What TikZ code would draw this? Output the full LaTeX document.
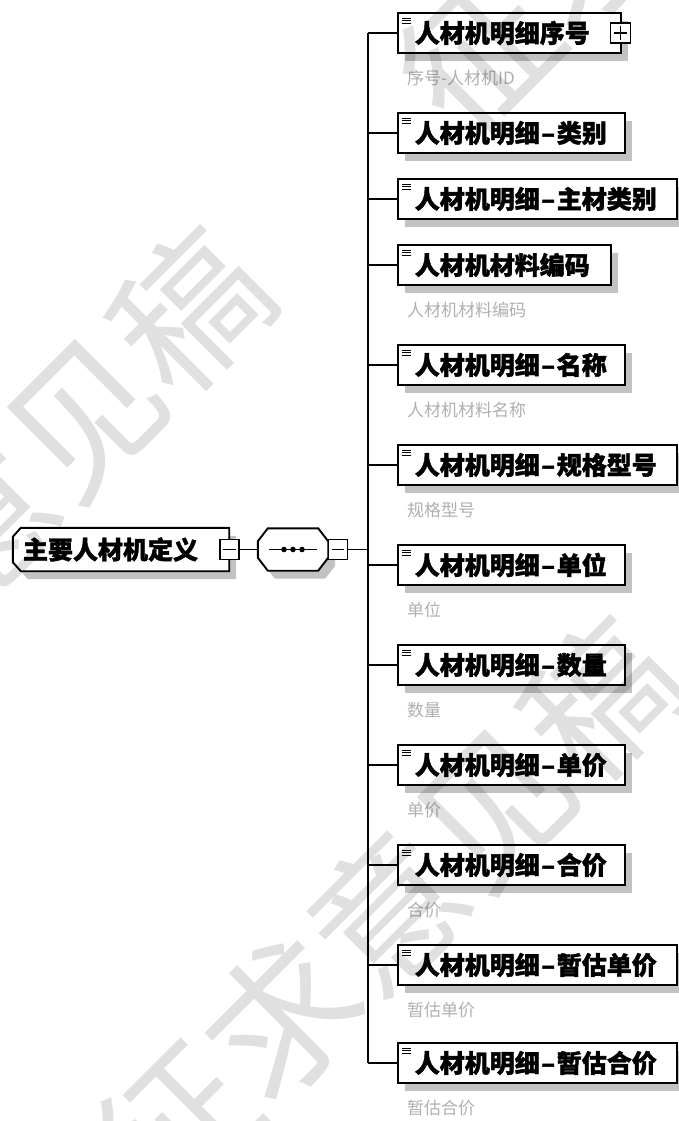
\documentclass[tikz,border=0pt]{standalone}
\usepackage{fontspec}
\newfontfamily\cjk{Noto Sans CJK SC}[BoldFeatures={FakeBold=1.5}]
\usetikzlibrary{shadows}
\pgfdeclarelayer{bg}
\pgfsetlayers{bg,main}
\newcommand\hy{\makebox[17pt]{–}}
\newcommand\elicon[1]{\foreach \k in {0,1,2}{\draw[line width=1.1pt] ([shift={(5,6+2.7*\k)}]#1.north west) -- ++(9,0);}}
\begin{document}
\begin{tikzpicture}[x=1pt,y=-1pt,line width=1.6pt,
  shad/.style={general shadow={fill=gray!48,draw=none,shadow xshift=7pt,shadow yshift=-8pt}},
  conn/.style={draw,line width=1.6pt},
  elem/.style={draw,line width=1.6pt,fill=white,shad,anchor=west,minimum height=40pt,inner xsep=17pt,inner ysep=0pt,
    align=left,text width=#1,font=\cjk\bfseries\fontsize{25}{30}\selectfont},
  sub/.style={anchor=west,inner sep=0pt,text=gray!62,font=\cjk\fontsize{17}{17}\selectfont},
  tog/.style={draw,fill=white,minimum width=19pt,minimum height=20pt,inner sep=0pt,line width=1.5pt},
  togline/.style={draw,line width=1.3pt},
  rootbox/.style={minimum height=43pt,inner xsep=10pt,inner ysep=0pt,text width=196pt,align=left,
    font=\cjk\bfseries\fontsize{25}{30}\selectfont},
  seqbox/.style={minimum width=70pt,minimum height=42pt,inner sep=0pt},
  outline/.style={draw,line width=1.9pt,fill=white,shad},
  wm/.style={rotate=45,inner sep=0pt,text=black,text opacity=0.12,font=\cjk\fontsize{150}{150}\selectfont}
]
\useasboundingbox (0,0) rectangle (679,1121);
\clip (0,0) rectangle (679,1121);
\begin{pgfonlayer}{bg}
\fill[white] (0,0) rectangle (679,1121);
\end{pgfonlayer}

% root and sequence
\node[rootbox] (root) at (121,549.5) {主要人材机定义};
\node[seqbox] (seq) at (293,549.5) {};
\begin{pgfonlayer}{bg}
\draw[outline] ([xshift=8pt]root.north west) -- (root.north east) -- (root.south east)
  -- ([xshift=8pt]root.south west) -- ([yshift=9pt]root.south west) -- ([yshift=-9pt]root.north west) -- cycle;
\draw[outline] ([xshift=10pt]seq.north west) -- ([xshift=-10pt]seq.north east) -- ([yshift=-13pt]seq.north east)
  -- ([yshift=13pt]seq.south east) -- ([xshift=-10pt]seq.south east) -- ([xshift=10pt]seq.south west)
  -- ([yshift=13pt]seq.south west) -- ([yshift=-13pt]seq.north west) -- cycle;
\end{pgfonlayer}
\node[tog] (m1) at (229.5,549.5) {};
\draw[togline] ([xshift=4pt]m1.west) -- ([xshift=-4pt]m1.east);
\draw[line width=1.5pt] ([xshift=-24pt]seq.center) -- ([xshift=24pt]seq.center);
\foreach \d in {-9,0,9}{\fill ([xshift=\d pt]seq.center) circle (2.8pt);}
\node[tog] (m2) at (338,549.5) {};
\draw[togline] ([xshift=4pt]m2.west) -- ([xshift=-4pt]m2.east);
\draw[conn] (m1.east) -- (seq.west);
\coordinate (trunk) at (368,549.5);
\draw[conn] (m2.east) -- (trunk);

% elements
\node[elem=189pt] (e1) at (397,33) {人材机明细序号};
\node[elem=193pt] (e2) at (397,133) {人材机明细\hy 类别};
\node[elem=245pt] (e3) at (397,199) {人材机明细\hy 主材类别};
\node[elem=179pt] (e4) at (397,265) {人材机材料编码};
\node[elem=193pt] (e5) at (397,365) {人材机明细\hy 名称};
\node[elem=245pt] (e6) at (397,465) {人材机明细\hy 规格型号};
\node[elem=193pt] (e7) at (397,565) {人材机明细\hy 单位};
\node[elem=193pt] (e8) at (397,665) {人材机明细\hy 数量};
\node[elem=193pt] (e9) at (397,765) {人材机明细\hy 单价};
\node[elem=193pt] (e10) at (397,865) {人材机明细\hy 合价};
\node[elem=245pt] (e11) at (397,965) {人材机明细\hy 暂估单价};
\node[elem=245pt] (e12) at (397,1063) {人材机明细\hy 暂估合价};
\foreach \n in {e1,e2,e3,e4,e5,e6,e7,e8,e9,e10,e11,e12}{\elicon{\n}}

% expand box on first element
\node[tog,minimum width=20pt] (p1) at (620.5,33) {};
\draw[togline] ([xshift=4pt]p1.west) -- ([xshift=-4pt]p1.east);
\draw[togline] ([yshift=-4pt]p1.north) -- ([yshift=4pt]p1.south);

% connectors
\draw[conn] (trunk |- e1.west) -- (trunk |- e12.west);
\foreach \n in {e1,e2,e3,e4,e5,e6,e7,e8,e9,e10,e11,e12}{\draw[conn] (\n.west) -- (trunk |- \n.west);}

% annotations
\node[sub] (s1) at (407,78) {序号-人材机ID};
\node[sub] (s4) at (407,310) {人材机材料编码};
\node[sub] (s5) at (407,410) {人材机材料名称};
\node[sub] (s6) at (407,510) {规格型号};
\node[sub] (s7) at (407,610) {单位};
\node[sub] (s8) at (407,710) {数量};
\node[sub] (s9) at (407,810) {单价};
\node[sub] (s10) at (407,910) {合价};
\node[sub] (s11) at (407,1010) {暂估单价};
\node[sub] (s12) at (407,1108) {暂估合价};

% watermark
\node[wm] (w1) at (-22,522) {征求意见稿};
\node[wm] (w2) at (388,912) {征求意见稿};
\node[wm] (w3) at (690,-160) {征求意见稿};
\end{tikzpicture}
\end{document}
